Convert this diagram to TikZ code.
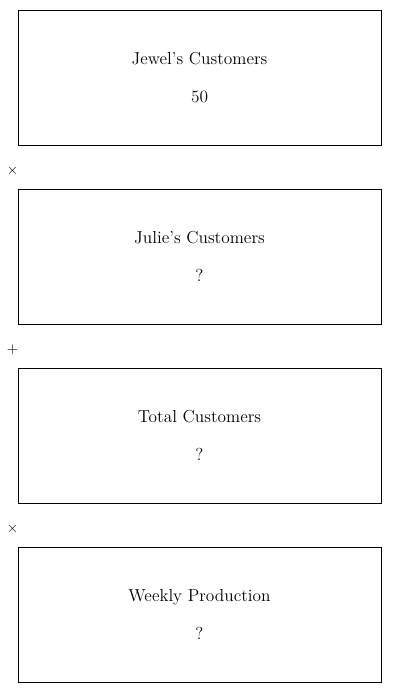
\documentclass[tikz,border=0pt]{standalone}
\usepackage{tikz}
\usetikzlibrary{positioning,calc}
\tikzstyle{quantity} = [rectangle, minimum width=272.25pt, minimum height=101.25pt, text centered, align=center, draw=black, line width=0.75pt, font=\fontsize{13}{15.6}\selectfont]
\tikzstyle{op} = [inner sep=0pt, font=\fontsize{11}{13}\selectfont]

\begin{document}
\begin{tikzpicture}[node distance=32.25pt]
	\useasboundingbox (0,0) rectangle (300pt,-519.75pt);
	\node (Jewel) [quantity] at (149.625pt,-58.125pt) {Jewel's Customers\\[13pt]50};
	\node (Julie) [quantity, below = of Jewel] {Julie's Customers\\[13pt]?};
	\node (Total) [quantity, below = of Julie] {Total Customers\\[13pt]?};
	\node (Weekly) [quantity, below = of Total] {Weekly Production\\[13pt]?};
	
	\node (TimesA) [op] at ($(Jewel.south west)+(-3.75pt,-18.75pt)$) {$\times$};
	\node (Plus) [op] at ($(Julie.south west)+(-3.75pt,-18.75pt)$) {$+$};
	\node (TimesB) [op] at ($(Total.south west)+(-3.75pt,-18.75pt)$) {$\times$};
\end{tikzpicture}
\end{document}
